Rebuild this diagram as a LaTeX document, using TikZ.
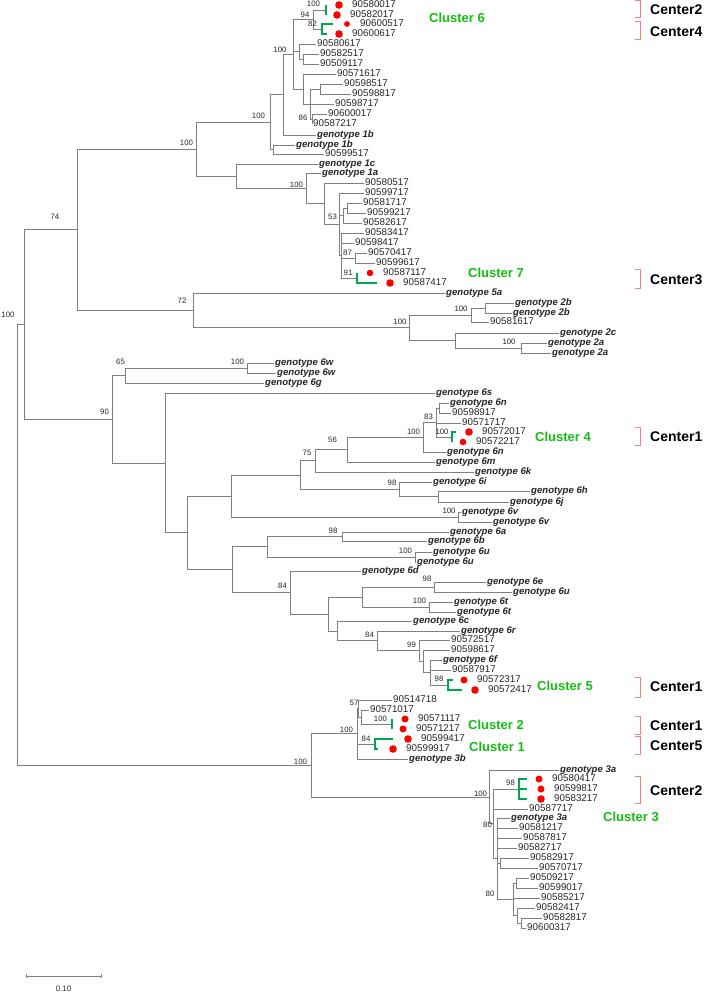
\documentclass[tikz,border=0pt]{standalone}
\usepackage{fontspec}
\setmainfont{Liberation Sans}
\usepackage{tikz}
\usetikzlibrary{calc}
\definecolor{clgreen}{RGB}{20,190,20}
\definecolor{brgreen}{RGB}{0,166,80}
\definecolor{ctred}{RGB}{250,125,125}
\tikzstyle{branch}=[draw=black!50,line width=0.7pt]
\tikzstyle{leaf}=[anchor=west,inner sep=1pt,text height=7pt,text depth=2pt,text=black!85,font=\fontsize{9.8}{11}\selectfont]
\tikzstyle{genleaf}=[leaf,font=\fontsize{9.6}{11}\selectfont\bfseries\itshape]
\tikzstyle{bsval}=[inner sep=0pt,text=black!85,font=\fontsize{7.8}{8}\selectfont]
\tikzstyle{clus}=[draw=brgreen,line width=1.6pt]
\tikzstyle{reddot}=[fill=red]
\tikzstyle{cluslabel}=[anchor=west,inner sep=0pt,text=clgreen,font=\fontsize{13}{14}\selectfont\bfseries]
\tikzstyle{centlabel}=[anchor=west,inner sep=0pt,font=\fontsize{14}{15}\selectfont\bfseries]
\tikzstyle{centbr}=[draw=ctred,line width=0.8pt]

\begin{document}
\begin{tikzpicture}[x=1pt,y=-1pt]
\useasboundingbox[fill=white] (0,0) rectangle (704,992);

% tips
\foreach \n/\x/\y/\t in {t05/317/44/90580617, t06/320/54/90582517, t07/320/64/90509117,
  t08/337/74/90571617, t09/344/84/90598517, t10/352/94/90598817, t11/335/104/90598717,
  t12/328/114/90600017, t13/313/124/90587217, t16/325/154/90599517, t19/365/183/90580517,
  t20/365/193/90599717, t21/363/203/90581717, t22/367/213/90599217, t23/363/223/90582617,
  t24/365/233/90583417, t25/355/243/90598417, t26/368/253/90570417, t27/376/263/90599617,
  t33/490/322/90581617, t42/452/413/90598917, t43/462/423/90571717, t65/451/640/90572517,
  t66/451/650/90598617, t68/452/670/90587917, t71/393/700/90514718, t72/370/710/90571017,
  t82/529/809/90587717, t84/519/828/90581217, t85/523/838/90587817, t86/518/848/90582717,
  t87/530/858/90582917, t88/539/868/90570717, t89/530/878/90509217, t90/539/888/90599017,
  t91/541/898/90585217, t92/536/908/90582417, t93/543/918/90582817, t94/527/928/90600317}
  \node[leaf] (\n) at (\x-1,\y) {\t};

\foreach \n/\x/\y/\t in {t14/317/135/1b, t15/296/145/1b, t17/319/164/1c, t18/322/173/1a,
  t30/446/293/5a, t31/515/303/2b, t32/513/313/2b, t34/560/333/2c, t35/548/343/2a,
  t36/552/353/2a, t37/275/363/6w, t38/277/373/6w, t39/265/383/6g, t40/436/393/6s,
  t41/450/403/6n, t46/447/452/6n, t47/436/462/6m, t48/475/472/6k, t49/433/482/6i,
  t50/531/491/6h, t51/510/502/6j, t52/462/512/6v, t53/493/522/6v, t54/450/532/6a,
  t55/428/541/6b, t56/433/552/6u, t57/417/562/6u, t58/362/571/6d, t59/487/582/6e,
  t60/513/592/6u, t61/454/602/6t, t62/457/612/6t, t63/413/621/6c, t64/461/631/6r,
  t67/443/660/6f, t77/409/759/3b, t78/560/770/3a, t83/511/818/3a}
  \node[genleaf] (\n) at (\x-1,\y) {genotype \t};

% sequences of the clusters, with red dots
\foreach \n/\x/\y/\t/\r in {t01/352/5/90580017/3.8, t02/350/15/90582017/3.8,
  t03/360/24/90600517/2.9, t04/352/34/90600617/3.8, t28/383/273/90587117/3.3,
  t29/403/283/90587417/3.8, t44/482/432/90572017/3.8, t45/476/442/90572217/3.3,
  t69/477/680/90572317/3.5, t70/488/690/90572417/3.8, t73/418/719/90571117/3.5,
  t74/416/729/90571217/3.5, t75/421/739/90599417/3.8, t76/406/749/90599917/3.8,
  t79/552/779/90580417/3.5, t80/554/789/90599817/3.5, t81/554/799/90583217/3.8}
  {\node[leaf] (\n) at (\x-1,\y) {\t};
   \fill[reddot] ([xshift=-12pt]\n.west) circle (\r pt);}

% inner nodes
\coordinate (nA) at (326,10);      \coordinate (nB) at (322,29);
\coordinate (n94) at (313,19.5);   \coordinate (n303b) at (303,59);
\coordinate (n299) at (299,51.5);  \coordinate (n320) at (320,89);
\coordinate (n86) at (312,119);    \coordinate (n311) at (310,104);
\coordinate (n303) at (303,89);    \coordinate (n293) at (293,54.3);
\coordinate (n283) at (283,94.7);  \coordinate (n273) at (273,149.5);
\coordinate (n270) at (270,122.1); \coordinate (n347a) at (347,208);
\coordinate (n343) at (343,215.5); \coordinate (n87) at (355,258);
\coordinate (n91) at (357,278);    \coordinate (n341) at (341,255.5);
\coordinate (n339) at (339,224.2); \coordinate (n324) at (324,203.6);
\coordinate (n306) at (306,188.3); \coordinate (n236) at (236,176.2);
\coordinate (n196) at (196,149.1);
\coordinate (n485) at (485,308);   \coordinate (n471) at (471,315);
\coordinate (n521) at (521,348);   \coordinate (n455) at (455,340.5);
\coordinate (n409) at (409,327.8); \coordinate (n193) at (193,310.4);
\coordinate (n77) at (77,229.7);
\coordinate (n247) at (247,368);   \coordinate (n125) at (125,375.5);
\coordinate (n439) at (439,408);   \coordinate (n452) at (452,437);
\coordinate (n436) at (436,422.5); \coordinate (n423) at (423,437.2);
\coordinate (n347) at (347,449.6); \coordinate (n315) at (315,460.8);
\coordinate (n438) at (438,496.5); \coordinate (n399) at (399,489.2);
\coordinate (n300) at (300,475);   \coordinate (n458) at (458,517);
\coordinate (n231) at (231,496);   \coordinate (n342) at (342,536.5);
\coordinate (n415) at (415,557);   \coordinate (n267) at (267,546.8);
\coordinate (n434) at (434,587);   \coordinate (n429) at (429,607);
\coordinate (n362) at (362,597);   \coordinate (n448) at (448,685);
\coordinate (n430) at (430,672.5); \coordinate (n423b) at (423,661.2);
\coordinate (n419) at (419,650.6); \coordinate (n377) at (377,640.8);
\coordinate (n337) at (337,630.9); \coordinate (n328) at (328,613.9);
\coordinate (n290) at (290,592.5); \coordinate (n232) at (232,569.6);
\coordinate (n187) at (187,532.8); \coordinate (n165) at (165,462.9);
\coordinate (n112) at (112,419.2); \coordinate (n24) at (24,324.5);
\coordinate (n392) at (392,724);   \coordinate (n361) at (361,717);
\coordinate (n358) at (358,708.5); \coordinate (n375) at (375,744);
\coordinate (n357) at (357,733.8); \coordinate (n519) at (519,789);
\coordinate (n500) at (500,863);   \coordinate (n516) at (516,883);
\coordinate (n521b) at (521,923);  \coordinate (n517) at (517,915.5);
\coordinate (n513) at (513,899.2); \coordinate (n497) at (497,858.6);
\coordinate (n493) at (493,823.8); \coordinate (n489) at (489,796.9);
\coordinate (n311b) at (311,765.3);\coordinate (n17) at (17,544.9);

% branches
\foreach \p/\c in {n94/nA, n94/nB, n303b/t06, n303b/t07, n299/t05, n299/n303b,
  n320/t09, n320/t10, n86/t12, n86/t13, n311/n320, n311/t11, n311/n86, n303/t08,
  n303/n311, n293/n94, n293/n299, n293/n303, n283/n293, n283/t14, n273/t15, n273/t16,
  n270/n283, n270/n273, n347a/t21, n347a/t22, n343/n347a, n343/t23, n87/t26, n87/t27,
  n341/t24, n341/t25, n341/n87, n341/n91, n339/t20, n339/n343, n339/n341, n324/t19,
  n324/n339, n306/t18, n306/n324, n236/t17, n236/n306, n196/n270, n196/n236,
  n485/t31, n485/t32, n471/n485, n471/t33, n521/t35, n521/t36, n455/t34, n455/n521,
  n409/n471, n409/n455, n193/t30, n193/n409, n77/n196, n77/n193,
  n247/t37, n247/t38, n125/n247, n125/t39, n439/t41, n439/t42, n436/n439, n436/t43,
  n436/n452, n423/n436, n423/t46, n347/n423, n347/t47, n315/n347, n315/t48,
  n438/t50, n438/t51, n399/t49, n399/n438, n300/n315, n300/n399, n458/t52, n458/t53,
  n231/n300, n231/n458, n342/t54, n342/t55, n415/t56, n415/t57, n267/n342, n267/n415,
  n434/t59, n434/t60, n429/t61, n429/t62, n362/n434, n362/n429, n430/t67, n430/t68,
  n430/n448, n423b/t66, n423b/n430, n419/t65, n419/n423b, n377/t64, n377/n419,
  n337/t63, n337/n377, n328/n362, n328/n337, n290/t58, n290/n328, n232/n267,
  n232/n290, n187/n231, n187/n232, n165/t40, n165/n187, n112/n125, n112/n165,
  n24/n77, n24/n112,
  n361/t72, n361/n392, n358/t71, n358/n361, n357/n358, n357/n375, n357/t77,
  n500/t87, n500/t88, n516/t89, n516/t90, n521b/t93, n521b/t94, n517/t92,
  n517/n521b, n513/n516, n513/t91, n513/n517, n497/t83, n497/t84, n497/t85,
  n497/t86, n497/n500, n497/n513, n493/n519, n493/t82, n493/n497, n489/t78,
  n489/n493, n311b/n357, n311b/n489, n17/n24, n17/n311b}
  \draw[branch] (\p) |- (\c);

% green cluster brackets
\draw[clus] (nA |- t01) -- (nA |- t02);
\draw[clus] ([xshift=11pt]nB |- t03) -| (nB |- t04) -- ++(5,0);
\draw[clus] (n91 |- t28) |- ([xshift=20pt]n91 |- t29);
\draw[clus] ([xshift=4pt]n452 |- t44) -| (n452 |- t45);
\draw[clus] ([xshift=5pt]n448 |- t69) -| (n448 |- t70) -- ++(14,0);
\draw[clus] (n392 |- t73) -- (n392 |- t74);
\draw[clus] ([xshift=18pt]n375 |- t75) -| (n375 |- t76) -- ++(3,0);
\draw[clus] ([xshift=8pt]n519 |- t79) -| (n519 |- t81) -- ++(8,0);
\draw[clus] (n519 |- t80) -- ++(8,0);

% bootstrap values
\foreach \x/\y/\v [count=\i] in {8/315/100, 55/217/74, 186.5/143/100, 258.5/116/100,
  280/50/100, 305/15/94, 313.5/4/100, 312.5/24/82, 303/118/86, 296.5/185/100,
  332.5/217/53, 347.5/253/87, 348/273/91, 182/301/72, 400/322/100, 461/309/100,
  509/342/100, 237.5/362/100, 120.5/362/65, 104.5/412/90, 307/453/75, 332.5/440/56,
  413.5/432/100, 428.5/417/83, 442/432/100, 392/483/98, 449/511/100, 333/531/98,
  405.5/551/100, 282.5/586/84, 427/579/98, 419.5/601/100, 369.5/635/84, 411.5/645/99,
  439/679/98, 354/703/57, 380.5/719/100, 366/739/84, 346.5/730/100, 300.5/762/100,
  480.5/794/100, 510.5/783/98, 487.5/825/80, 490/894/80}
  \node[bsval] (bs\i) at (\x,\y) {\v};

% clusters and centers
\node[cluslabel] (cl6) at (429,18) {Cluster 6};
\node[cluslabel] (cl7) at (468,273) {Cluster 7};
\node[cluslabel] (cl4) at (535,437) {Cluster 4};
\node[cluslabel] (cl5) at (537,686) {Cluster 5};
\node[cluslabel] (cl2) at (468,725) {Cluster 2};
\node[cluslabel] (cl1) at (469,747) {Cluster 1};
\node[cluslabel] (cl3) at (603,817) {Cluster 3};
\foreach \y/\t [count=\i] in {10/Center2, 32/Center4, 280/Center3, 437/Center1,
  687/Center1, 726/Center1, 746/Center5, 791/Center2}
  \node[centlabel] (ct\i) at (650,\y) {\t};
\foreach \a/\b in {0.5/17, 21/39, 269/288, 427/445, 677/697, 716/734, 736/754, 776/803}
  \draw[centbr] (635,\a) -| (640,\b) -- (635,\b);

% scale bar
\coordinate (sb1) at (26,976);
\coordinate (sb2) at (101,976);
\draw[branch] (sb1) -- (sb2);
\draw[branch,line width=0.5pt] ([yshift=2pt]sb1) -- ([yshift=-2pt]sb1);
\draw[branch,line width=0.5pt] ([yshift=2pt]sb2) -- ([yshift=-2pt]sb2);
\node[bsval] (sbl) at (63.5,989) {0.10};
\end{tikzpicture}
\end{document}
